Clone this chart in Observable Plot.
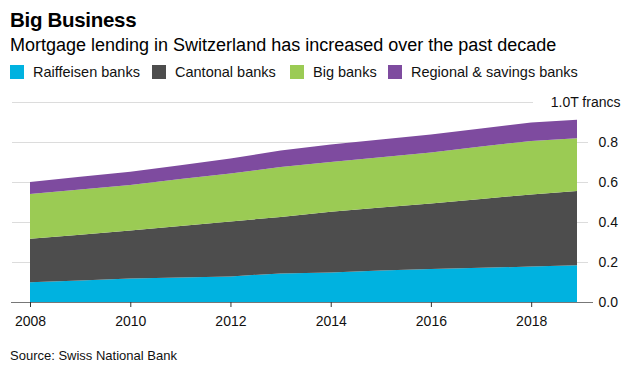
<!DOCTYPE html>
<html>
<head>
<meta charset="utf-8">
<script src="https://cdn.jsdelivr.net/npm/d3@7"></script>
<script src="https://cdn.jsdelivr.net/npm/@observablehq/plot@0.6"></script>
<style>
  html, body { margin: 0; padding: 0; background: #fff; }
  body { width: 642px; height: 389px; position: relative; overflow: hidden;
         font-family: "Liberation Sans", Arial, Helvetica, sans-serif; color: #000; }
  #title { position: absolute; left: 10px; top: 8px; font-size: 20.5px; font-weight: bold; letter-spacing: -0.3px; }
  #subtitle { position: absolute; left: 10px; top: 35px; font-size: 18px; }
  #legend { position: absolute; left: 0; top: 64px; width: 642px; height: 20px; font-size: 14.5px; color: #111; }
  .item { position: absolute; top: 0; display: flex; align-items: center; }
  .sw { width: 14px; height: 14px; margin-right: 9px; }
  #chart { position: absolute; left: 0; top: 90px; }
  #source { position: absolute; left: 10px; top: 348px; font-size: 13px; color: #111; }
</style>
</head>
<body>
<div id="title">Big Business</div>
<div id="subtitle">Mortgage lending in Switzerland has increased over the past decade</div>
<div id="legend"></div>
<div id="chart"></div>
<div id="source">Source: Swiss National Bank</div>
<script>
// ---- data (trillion francs) ----
const dates = ["2008-01-01","2009-01-01","2010-01-01","2011-01-01","2012-01-01","2013-01-01",
               "2014-01-01","2015-01-01","2016-01-01","2017-01-01","2018-01-01","2018-12-01"];
const raiffeisen = [0.099,0.108,0.117,0.123,0.128,0.143,0.147,0.157,0.165,0.171,0.177,0.184];
const cantonal   = [0.217,0.228,0.240,0.257,0.275,0.282,0.304,0.315,0.328,0.344,0.361,0.371];
const bigBanks   = [0.224,0.226,0.228,0.235,0.240,0.250,0.249,0.252,0.255,0.262,0.267,0.264];
const regional   = [0.060,0.064,0.066,0.069,0.074,0.083,0.088,0.089,0.090,0.091,0.093,0.092];

const seriesNames = ["Raiffeisen banks","Cantonal banks","Big banks","Regional & savings banks"];
const seriesColors = ["#00b2e0","#4d4d4d","#9bcb54","#7e4b9f"];
const xTickYears = ["2008","2010","2012","2014","2016","2018"];
const yTicks = [0, 0.2, 0.4, 0.6, 0.8];
const yTopLabel = [1.0];
const yGrid = [0.2, 0.4, 0.6, 0.8];
const legendLeft = [10, 152, 290, 388];

const seriesValues = [raiffeisen, cantonal, bigBanks, regional];
const rows = [];
seriesNames.forEach((name, i) => {
  dates.forEach((d, j) => rows.push({date: new Date(d), series: name, value: seriesValues[i][j]}));
});

// legend
const legend = document.getElementById("legend");
seriesNames.forEach((n, i) => {
  const it = document.createElement("div"); it.className = "item"; it.style.left = legendLeft[i] + "px";
  const sw = document.createElement("div"); sw.className = "sw"; sw.style.background = seriesColors[i];
  const t = document.createElement("span"); t.textContent = n;
  it.appendChild(sw); it.appendChild(t); legend.appendChild(it);
});

const font = "\"Liberation Sans\", Arial, Helvetica, sans-serif";
const chart = Plot.plot({
  width: 642,
  height: 250,
  marginLeft: 11,
  marginRight: 49,
  marginTop: 12,
  marginBottom: 38,
  style: {fontFamily: font, fontSize: "14px", color: "#111", background: "transparent"},
  x: {type: "utc", domain: [new Date(dates[0]), new Date(dates[dates.length - 1])], range: [30, 577], axis: null},
  y: {domain: [0, 1.0], axis: null},
  color: {domain: seriesNames, range: seriesColors},
  marks: [
    Plot.ruleY(yGrid, {stroke: "#dcdcdc", strokeWidth: 1, insetLeft: 1, insetRight: 5}),
    Plot.ruleY(yTopLabel, {stroke: "#dcdcdc", strokeWidth: 1, insetLeft: 1, insetRight: 60}),
    Plot.areaY(rows, {x: "date", y: "value", fill: "series", order: seriesNames}),
    Plot.ruleY([0], {stroke: "#777", strokeWidth: 1}),
    Plot.axisX({
      ticks: xTickYears.map(y => new Date(y + "-01-01")),
      tickFormat: d3.utcFormat("%Y"),
      tickSize: 5, tickPadding: 9, stroke: "#333", fill: "#111", fontSize: 14
    }),
    Plot.text(yTicks, {
      y: d => d, text: d => d.toFixed(1),
      frameAnchor: "right", textAnchor: "start", dx: 5, fill: "#111", fontSize: 14
    }),
    Plot.text(yTopLabel, {
      y: d => d, text: d => d.toFixed(1) + "T francs",
      frameAnchor: "right", textAnchor: "end", dx: 27, fill: "#111", fontSize: 14
    })
  ]
});
document.getElementById("chart").appendChild(chart);
</script>
</body>
</html>
